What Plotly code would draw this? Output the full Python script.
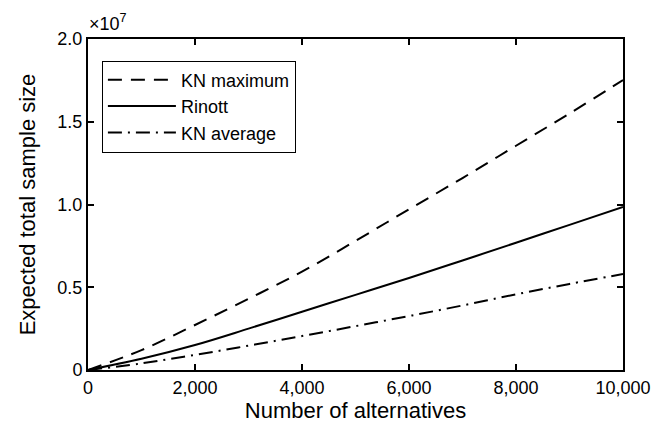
import plotly.graph_objects as go

alternatives = [0, 1000, 2000, 3000, 4000, 5000, 6000, 7000, 8000, 9000, 10000]
kn_maximum = [0, 0.12e7, 0.272e7, 0.43e7, 0.594e7, 0.78e7, 0.971e7, 1.16e7, 1.355e7, 1.55e7, 1.752e7]
rinott = [0, 0.068e7, 0.151e7, 0.25e7, 0.352e7, 0.454e7, 0.556e7, 0.662e7, 0.769e7, 0.877e7, 0.985e7]
kn_average = [0, 0.04e7, 0.091e7, 0.147e7, 0.205e7, 0.265e7, 0.326e7, 0.39e7, 0.457e7, 0.52e7, 0.58e7]

x_ticks = [0, 2000, 4000, 6000, 8000, 10000]
x_labels = ["0", "2,000", "4,000", "6,000", "8,000", "10,000"]
y_ticks = [0, 0.5e7, 1.0e7, 1.5e7, 2.0e7]
y_labels = ["0", "0.5", "1.0", "1.5", "2.0"]

FONT = "Liberation Sans, Arial, sans-serif"

fig = go.Figure()
fig.add_trace(go.Scatter(x=alternatives, y=kn_maximum, mode="lines", name="KN maximum",
                         line=dict(color="black", width=2, dash="14px,9px", shape="spline")))
fig.add_trace(go.Scatter(x=alternatives, y=rinott, mode="lines", name="Rinott",
                         line=dict(color="black", width=2, shape="spline")))
fig.add_trace(go.Scatter(x=alternatives, y=kn_average, mode="lines", name="KN average",
                         line=dict(color="black", width=2, dash="14px,6px,2px,6px", shape="spline")))

axis_common = dict(showline=True, linecolor="black", linewidth=2, mirror="ticks",
                   ticks="inside", ticklen=6, tickwidth=1.5, tickcolor="black",
                   showgrid=False, zeroline=False, automargin=False,
                   tickfont=dict(family=FONT, size=18, color="black"))

fig.update_xaxes(range=[0, 10000], tickvals=x_ticks, ticktext=x_labels,
                 title=dict(text="Number of alternatives", font=dict(family=FONT, size=22, color="black"), standoff=0),
                 **axis_common)
fig.update_yaxes(range=[0, 2.0e7], tickvals=y_ticks, ticktext=y_labels,
                 title=dict(text="Expected total sample size", font=dict(family=FONT, size=22, color="black"), standoff=16),
                 **axis_common)

fig.add_annotation(text="×10<sup>7</sup>", xref="paper", yref="paper", x=-0.002, y=1.0,
                   xanchor="left", yanchor="bottom", yshift=3, showarrow=False,
                   font=dict(family=FONT, size=18, color="black"))

# page body adds an 8px offset, so the figure is sized to fit inside the window
fig.update_layout(
    width=657, height=422,
    margin=dict(l=80, r=42, t=31, b=60),
    paper_bgcolor="white", plot_bgcolor="white",
    showlegend=True,
    legend=dict(x=0.026, y=0.935, xanchor="left", yanchor="top",
                bordercolor="black", borderwidth=1, bgcolor="white",
                font=dict(family=FONT, size=18, color="black"),
                tracegroupgap=0, itemwidth=68),
)

fig.write_html("out.html")
